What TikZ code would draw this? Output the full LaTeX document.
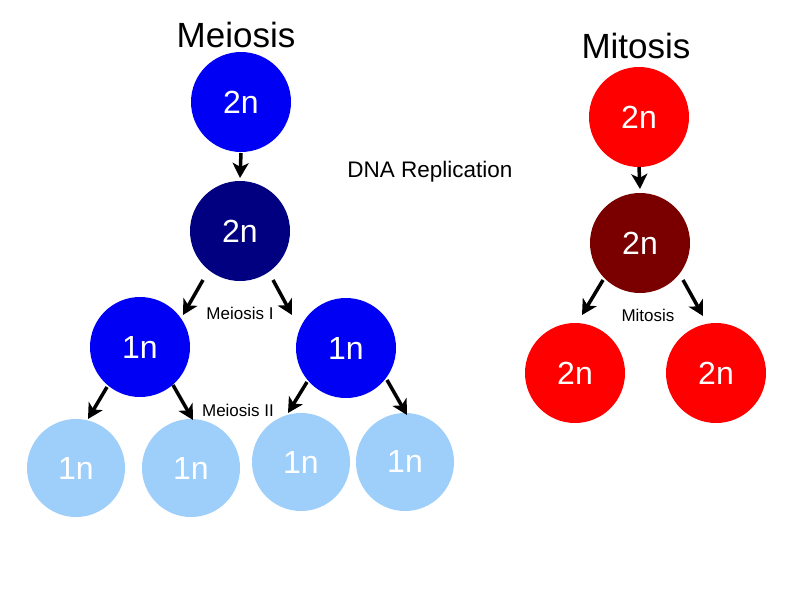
\documentclass[tikz,border=0pt]{standalone}
\usepackage{fontspec}
\setmainfont{Liberation Sans}
\usetikzlibrary{arrows.meta}
\definecolor{mblue}{HTML}{0000F5}
\definecolor{mnavy}{HTML}{000080}
\definecolor{mlight}{HTML}{9ECEFA}
\definecolor{mred}{HTML}{FF0000}
\definecolor{mdark}{HTML}{7A0000}
\tikzset{
  cell/.style={circle, minimum size=100pt, inner sep=0pt, text=white, font=\fontsize{32}{32}\selectfont},
  cellsm/.style={cell, minimum size=98pt},
  title/.style={font=\fontsize{35}{35}\selectfont},
  lab/.style={font=\fontsize{17}{17}\selectfont},
  arr/.style={line width=3.5pt, -{Stealth[length=15pt,width=16pt,inset=4pt]}}
}
\begin{document}
\begin{tikzpicture}[x=1pt,y=-1pt]
\useasboundingbox (0,0) rectangle (800,600);
\fill[white] (0,0) rectangle (800,600);
% titles
\node[title] (tmei) at (236,35) {Meiosis};
\node[title] (tmit) at (636,46) {Mitosis};
% meiosis
\node[cell, fill=mblue] (m1) at (241,102) {2n};
\node[cell, fill=mnavy] (m2) at (240,231) {2n};
\node[cell, fill=mblue] (l1) at (140,347) {1n};
\node[cell, fill=mblue] (r1) at (346,348) {1n};
\node[cellsm, fill=mlight] (a) at (76,468) {1n};
\node[cellsm, fill=mlight] (b) at (191,468) {\raisebox{-5pt}{1n}};
\node[cellsm, fill=mlight] (c) at (301,462) {1n};
\node[cellsm, fill=mlight] (d) at (405,462) {\raisebox{2pt}{1n}};
% mitosis
\node[cell, fill=mred] (t1) at (639,117) {2n};
\node[cell, fill=mdark] (t2) at (640,243) {2n};
\node[cell, fill=mred] (bl) at (575,373) {2n};
\node[cell, fill=mred] (br) at (716,373) {2n};
% labels
\node[font=\fontsize{22.5}{22.5}\selectfont] (dna) at (430,172) {DNA Replication};
\node[lab] (lmi) at (240,313) {Meiosis I};
\node[lab] (lmii) at (238,410) {Meiosis II};
\node[lab] (lmit) at (648,315) {Mitosis};
% arrows
\draw[arr] ([shift={(0,51)}]m1.center) -- ([shift={(0,-53)}]m2.center);
\draw[arr] ([shift={(-37,49)}]m2.center) -- ([shift={(43,-32)}]l1.center);
\draw[arr] ([shift={(33,49)}]m2.center) -- ([shift={(-54,-33)}]r1.center);
\draw[arr] ([shift={(-33,40)}]l1.center) -- ([shift={(12,-49)}]a.center);
\draw[arr] ([shift={(33,38)}]l1.center) -- ([shift={(2,-48)}]b.center);
\draw[arr] ([shift={(-39,34)}]r1.center) -- ([shift={(-13,-49)}]c.center);
\draw[arr] ([shift={(41,32)}]r1.center) -- ([shift={(2,-47)}]d.center);
\draw[arr] ([shift={(0,50)}]t1.center) -- ([shift={(0,-54)}]t2.center);
\draw[arr] ([shift={(-37,37)}]t2.center) -- ([shift={(7,-58)}]bl.center);
\draw[arr] ([shift={(43,37)}]t2.center) -- ([shift={(-13,-57)}]br.center);
\end{tikzpicture}
\end{document}
